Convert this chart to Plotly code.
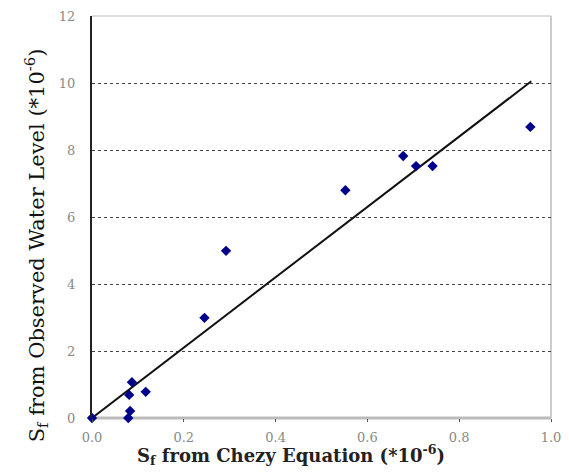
import plotly.graph_objects as go

chezy_x = [0.0, 0.079, 0.083, 0.081, 0.087, 0.117, 0.245, 0.292, 0.552, 0.678, 0.706, 0.742, 0.955]
observed_y = [0.0, 0.0, 0.21, 0.69, 1.07, 0.78, 2.99, 4.99, 6.8, 7.82, 7.52, 7.52, 8.69]
line_x = [0.0, 0.957]
line_y = [0.0, 10.05]
x_ticks = [0.0, 0.2, 0.4, 0.6, 0.8, 1.0]
x_tick_labels = ["0.0", "0.2", "0.4", "0.6", "0.8", "1.0"]
y_ticks = [0, 2, 4, 6, 8, 10, 12]
x_title = "<b>S<sub>f</sub> from Chezy Equation (*10<sup>-6</sup>)</b>"
y_title = "S<sub>f</sub> from Observed Water Level (*10<sup>-6</sup>)"

fig = go.Figure()
fig.add_trace(go.Scatter(x=line_x, y=line_y, mode="lines",
                         line=dict(color="#111", width=2), showlegend=False))
fig.add_trace(go.Scatter(x=chezy_x, y=observed_y, mode="markers",
                         marker=dict(symbol="diamond", color="#00008B", size=8),
                         showlegend=False, cliponaxis=False))

font_fam = "DejaVu Serif, serif"
fig.update_layout(
    width=569, height=472,
    margin=dict(l=92, r=8, t=16, b=54),
    paper_bgcolor="white", plot_bgcolor="white",
    font=dict(family=font_fam, color="#222"),
    xaxis=dict(range=[0, 1.0], tickvals=x_ticks, ticktext=x_tick_labels,
               showgrid=False, zeroline=False, showline=False,
               ticks="outside", ticklen=3, tickcolor="#555",
               ticklabeloverflow="allow", ticklabelstandoff=4,
               tickfont=dict(size=13, color="#888")),
    yaxis=dict(range=[0, 12], tickvals=y_ticks,
               showgrid=True, gridcolor="#444", griddash="3px,3px", gridwidth=1,
               zeroline=False, showline=True, linecolor="#222", linewidth=2,
               ticks="", ticklabelstandoff=12,
               tickfont=dict(size=13, color="#888")),
)
fig.add_annotation(text=x_title, xref="paper", yref="paper", x=0.433, y=-0.13,
                   showarrow=False, xanchor="center", yanchor="bottom",
                   font=dict(size=18, color="#222", family=font_fam))
fig.add_annotation(text=y_title, xref="paper", yref="paper", x=-0.1215, y=0.43,
                   showarrow=False, xanchor="center", yanchor="middle", textangle=-90,
                   font=dict(size=21, color="#111", family=font_fam))
# frame: grey bottom axis line, light grey top and right border
fig.add_shape(type="line", xref="paper", yref="paper", x0=0, x1=1, y0=0, y1=0,
              line=dict(color="#bbb", width=3), layer="below")
fig.add_shape(type="line", xref="paper", yref="paper", x0=0, x1=1, y0=1, y1=1,
              line=dict(color="#ddd", width=2), layer="below")
fig.add_shape(type="line", xref="paper", yref="paper", x0=1, x1=1, y0=0, y1=1,
              line=dict(color="#ccc", width=2), layer="below")

fig.write_html("out.html")
